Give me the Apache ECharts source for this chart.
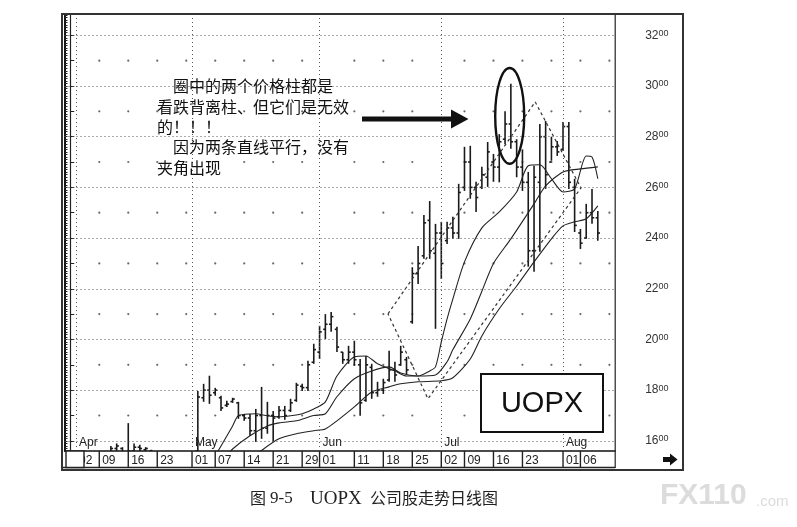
<!DOCTYPE html>
<html lang="zh-cn">
<head>
<meta charset="UTF-8">
<title>UOPX</title>
<script src="https://cdn.jsdelivr.net/npm/echarts@6/dist/echarts.min.js"></script>
<style>
  html, body { margin: 0; padding: 0; background: #fff; }
  #chart { width: 797px; height: 527px; }
</style>
</head>
<body>
<div id="chart"></div>
<script>
// trading days shown on the axis (2007)
var days = [
  'Mar-29','Mar-30',
  'Apr-02','Apr-03','Apr-04','Apr-05','Apr-09','Apr-10','Apr-11','Apr-12','Apr-13','Apr-16',
  'Apr-17','Apr-18','Apr-19','Apr-20','Apr-23','Apr-24','Apr-25','Apr-26','Apr-27','Apr-30',
  'May-01','May-02','May-03','May-04','May-07','May-08','May-09','May-10','May-11','May-14',
  'May-15','May-16','May-17','May-18','May-21','May-22','May-23','May-24','May-25','May-29',
  'May-30','May-31',
  'Jun-01','Jun-04','Jun-05','Jun-06','Jun-07','Jun-08','Jun-11','Jun-12','Jun-13','Jun-14',
  'Jun-15','Jun-18','Jun-19','Jun-20','Jun-21','Jun-22','Jun-25','Jun-26','Jun-27','Jun-28',
  'Jun-29',
  'Jul-02','Jul-03','Jul-05','Jul-06','Jul-09','Jul-10','Jul-11','Jul-12','Jul-13','Jul-16',
  'Jul-17','Jul-18','Jul-19','Jul-20','Jul-23','Jul-24','Jul-25','Jul-26','Jul-27','Jul-30',
  'Jul-31',
  'Aug-01','Aug-02','Aug-03','Aug-06','Aug-07','Aug-08','Aug-09','Aug-10','Aug-13'
];
var tickDays = ['Apr-02','Apr-09','Apr-16','Apr-23','May-01','May-07','May-14','May-21','May-29',
  'Jun-01','Jun-11','Jun-18','Jun-25','Jul-02','Jul-09','Jul-16','Jul-23','Aug-01','Aug-06'];
var monthDays = ['Apr-02','May-01','Jun-01','Jul-02','Aug-01'];
var monthNames = ['Apr','May','Jun','Jul','Aug'];
var dotWeeks = ['Apr-09','Apr-16','Apr-23','Apr-30','May-07','May-14','May-21','May-29','Jun-11',
  'Jun-18','Jun-25','Jul-09','Jul-16','Jul-23','Jul-30','Aug-06','Aug-13'];
var priceLabels = [1600, 1800, 2000, 2200, 2400, 2600, 2800, 3000, 3200];
var priceTicks = [1600, 1700, 1800, 1900, 2000, 2100, 2200, 2300, 2400, 2500, 2600, 2700, 2800, 2900, 3000, 3100, 3200];
var dotLevels = [1700, 1900, 2100, 2300, 2500, 2700, 2900, 3100];

// daily price bars, one entry per day above
var opens = [null, null,
  1470,1480,1500,1515,1530,1540,1570,1570,1545,1560,1575,1565,1560,1525,1495,1500,1510,1520,1500,1490,
  1560,1770,1800,1790,1770,1740,1755,1750,1700,1690,
  1640,1700,1650,1700,1695,1720,1720,1760,1815,1810,
  1910,1950,2040,2060,2040,1950,1920,1950,1900,1760,
  1890,1790,1800,1840,1880,1900,1920,2070,2260,2330,
  2470,2340,2420,2390,2440,2420,2600,2700,2600,2600,
  2640,2700,2680,2790,2850,2780,2680,2620,2350,2620,
  2800,2700,2760,2750,2840,2600,2420,2400,2500,2480,
  null, null, null];
var highs = [null, null,
  1500,1520,1530,1540,1550,1580,1590,1575,1670,1590,1585,1575,1565,1540,1520,1530,1540,1535,1520,1515,
  1797,1825,1857,1809,1778,1758,1770,1754,1706,1706,
  1726,1813,1754,1718,1738,1738,1766,1829,1825,1916,
  1983,2054,2100,2108,2050,1951,1975,1995,1923,1935,
  1904,1833,1845,1955,1912,1975,1931,2285,2369,2491,
  2546,2456,2464,2464,2484,2614,2760,2764,2622,2681,
  2779,2732,2810,2900,3009,2790,2750,2661,2685,2850,
  2862,2800,2783,2858,2858,2634,2436,2535,2594,2507,
  null, null, null];
var lows = [null, null,
  1440,1460,1480,1490,1500,1530,1545,1530,1520,1540,1545,1530,1510,1480,1470,1480,1490,1485,1470,1465,
  1530,1754,1746,1778,1718,1734,1750,1687,1679,1620,
  1596,1608,1628,1596,1687,1683,1714,1754,1797,1797,
  1904,1923,2002,2030,1951,1904,1904,1896,1699,1754,
  1766,1774,1785,1833,1833,1896,1864,2062,2219,2318,
  2318,2042,2239,2377,2397,2397,2586,2555,2503,2594,
  2602,2622,2620,2770,2752,2640,2586,2287,2267,2346,
  2594,2705,2724,2744,2594,2424,2357,2397,2456,2389,
  null, null, null];
var closes = [null, null,
  1480,1505,1515,1530,1540,1570,1580,1545,1560,1575,1570,1570,1525,1495,1500,1510,1520,1500,1490,1500,
  1773,1800,1780,1800,1730,1745,1765,1700,1690,1640,
  1700,1650,1700,1690,1720,1700,1750,1820,1810,1900,
  1960,2030,2060,2090,1970,1920,1950,1920,1750,1900,
  1790,1800,1830,1880,1860,1950,1880,2260,2300,2460,
  2350,2420,2300,2440,2420,2580,2700,2600,2560,2650,
  2740,2680,2780,2850,2780,2680,2620,2350,2640,2800,
  2650,2760,2740,2840,2620,2450,2380,2500,2480,2420,
  null, null, null];

// moving averages: [day index, price]
var fastMA = [[25,1540],[26,1580],[28,1659],[29,1699],[32,1707],[34,1699],[36,1695],[38,1699],[40,1707],
  [42,1726],[44,1754],[46,1856],[49,1931],[51,1935],[53,1904],[56,1876],[58,1856],[60,1856],[62,1876],
  [63,1892],[64,1990],[65,2081],[66,2160],[68,2306],[71,2440],[74,2503],[77,2582],[79,2685],[81,2689],
  [83,2634],[85,2582],[87,2594],[89,2724],[90,2720],[91,2634]];
var midMA = [[27,1540],[28,1568],[31,1620],[34,1659],[36,1671],[39,1679],[42,1700],[44,1707],[46,1774],
  [49,1845],[52,1876],[55,1892],[57,1868],[60,1856],[63,1860],[65,1912],[66,1960],[69,2081],[71,2190],
  [73,2300],[76,2397],[80,2535],[82,2606],[85,2661],[88,2673],[91,2681]];
var slowMA = [[32,1540],[33,1562],[36,1608],[39,1628],[42,1640],[44,1647],[46,1679],[49,1734],[52,1793],
  [55,1813],[57,1825],[60,1833],[64,1837],[66,1849],[69,1923],[71,2014],[74,2121],[77,2211],[80,2306],
  [83,2397],[85,2448],[87,2464],[89,2476],[91,2527]];

// the dashed channel (two parallel trend lines) and the circled bars
var channel = [[54.8,2101],[80.2,2937],[88.1,2598],[61.7,1766],[54.8,2101]];
var circled = [[75.8,2882]];

var noteLines = ['圈中的两个价格柱都是', '看跌背离柱、但它们是无效', '的！！！', '因为两条直线平行，没有', '夹角出现'];

var chart = echarts.init(document.getElementById('chart'));

var bars = [];
for (var k = 0; k < days.length; k++) {
  if (highs[k] != null) bars.push([k, opens[k], highs[k], lows[k], closes[k]]);
}
var dots = [];
dotWeeks.forEach(function (d) {
  dotLevels.forEach(function (p) { dots.push([days.indexOf(d) - 1, p]); });
});
var gridMarks = priceLabels.map(function (p) { return { yAxis: p }; })
  .concat(monthDays.map(function (d) { return { xAxis: days.indexOf(d) - 1 }; }));
var dateTicks = tickDays.map(function (d) { return [days.indexOf(d) - 1, 1560]; });

function ohlc(params, api) {
  var x = api.value(0);
  var o = api.coord([x, api.value(1)]);
  var h = api.coord([x, api.value(2)]);
  var l = api.coord([x, api.value(3)]);
  var c = api.coord([x, api.value(4)]);
  var st = { stroke: '#1a1a1a', lineWidth: 1.6 };
  return {
    type: 'group',
    children: [
      { type: 'line', shape: { x1: h[0], y1: h[1], x2: l[0], y2: l[1] }, style: st },
      { type: 'line', shape: { x1: o[0] - 2.2, y1: o[1], x2: o[0], y2: o[1] }, style: st },
      { type: 'line', shape: { x1: c[0], y1: c[1], x2: c[0] + 2.2, y2: c[1] }, style: st }
    ]
  };
}

var font = 'Arial, "Liberation Sans", sans-serif';
var serif = '"Liberation Serif", "DejaVu Serif", serif';
var cjk = '"Noto Sans CJK SC", sans-serif';

var option = {
  animation: false,
  backgroundColor: '#fff',
  grid: { left: 64.5, right: 181.8, top: 15, bottom: 76 },
  xAxis: [
    {
      type: 'category', data: days, boundaryGap: true, position: 'bottom',
      axisLine: { lineStyle: { color: '#111', width: 1.5 } },
      axisTick: { show: false },
      axisLabel: {
        interval: function (i, v) { return tickDays.indexOf(v) >= 0; },
        formatter: function (v) { return v.slice(4); },
        align: 'left', margin: 4, fontSize: 12, color: '#222', fontFamily: font
      },
      splitLine: { show: false }
    },
    { type: 'value', min: -1, max: 94, show: false },
    {
      type: 'category', data: days, boundaryGap: true, position: 'bottom',
      axisLine: { show: false }, axisTick: { show: false },
      axisLabel: {
        inside: true,
        interval: function (i, v) { return monthDays.indexOf(v) >= 0; },
        formatter: function (v) { return monthNames[monthDays.indexOf(v)]; },
        align: 'left', margin: 2, fontSize: 12, color: '#222', fontFamily: font
      },
      splitLine: { show: false }
    }
  ],
  yAxis: [
    {
      type: 'value', position: 'right', min: 1560, max: 3280, interval: 40,
      axisLine: { show: true, lineStyle: { color: '#222', width: 1.2 } },
      axisTick: { show: true, customValues: priceTicks, length: 4, lineStyle: { color: '#222' } },
      axisLabel: {
        customValues: priceLabels, margin: 30,
        formatter: function (v) {
          if (v % 200 !== 0) return '';
          var s = String(v);
          return '{a|' + s.slice(0, 2) + '}{b|' + s.slice(2) + '}';
        },
        rich: {
          a: { fontSize: 12, color: '#333', fontFamily: font },
          b: { fontSize: 9, color: '#333', fontFamily: font, padding: [0, 0, 4, 0] }
        }
      },
      splitLine: { show: false }
    },
    {
      type: 'value', position: 'left', min: 1560, max: 3280, interval: 10,
      axisLine: { show: true, lineStyle: { color: '#111', width: 2 } },
      axisTick: { show: true, inside: true, length: 3, lineStyle: { color: '#222', width: 1 } },
      axisLabel: { show: false },
      splitLine: { show: false }
    }
  ],
  series: [
    {
      type: 'scatter', xAxisIndex: 1, yAxisIndex: 0, data: dots, symbolSize: 2.2,
      itemStyle: { color: '#444' }, silent: true, z: 1,
      markLine: {
        silent: true, symbol: ['none', 'none'], label: { show: false },
        lineStyle: { color: '#555', width: 1, type: [1, 3] },
        emphasis: { disabled: true },
        data: gridMarks
      }
    },
    {
      // date separators in the label strip under the axis
      type: 'custom', xAxisIndex: 1, yAxisIndex: 0, data: dateTicks, clip: false,
      encode: { x: 0, y: 1 }, z: 6, silent: true,
      renderItem: function (params, api) {
        var p = api.coord([api.value(0), api.value(1)]);
        return {
          type: 'line', shape: { x1: p[0], y1: p[1], x2: p[0], y2: p[1] + 16 },
          style: { stroke: '#222', lineWidth: 1.4 }
        };
      }
    },
    {
      type: 'custom', xAxisIndex: 1, yAxisIndex: 0, data: bars, clip: true,
      encode: { x: 0, y: [1, 2, 3, 4] }, renderItem: ohlc, z: 3
    },
    {
      type: 'line', xAxisIndex: 1, yAxisIndex: 0, data: fastMA, showSymbol: false, smooth: 0.25,
      lineStyle: { color: '#222', width: 1.1 }, z: 4
    },
    {
      type: 'line', xAxisIndex: 1, yAxisIndex: 0, data: midMA, showSymbol: false, smooth: 0.25,
      lineStyle: { color: '#222', width: 1.1 }, z: 4
    },
    {
      type: 'line', xAxisIndex: 1, yAxisIndex: 0, data: slowMA, showSymbol: false, smooth: 0.25,
      lineStyle: { color: '#222', width: 1.1 }, z: 4
    },
    {
      type: 'line', xAxisIndex: 1, yAxisIndex: 0, data: channel, showSymbol: false,
      lineStyle: { color: '#333', width: 1.2, type: [3, 3] }, z: 4
    },
    {
      type: 'custom', xAxisIndex: 1, yAxisIndex: 0, data: circled, encode: { x: 0, y: 1 }, z: 5,
      renderItem: function (params, api) {
        var c = api.coord([api.value(0), api.value(1)]);
        var s = api.size([2.5, 189]);
        return {
          type: 'ellipse', shape: { cx: c[0], cy: c[1], rx: s[0], ry: s[1] },
          style: { fill: 'none', stroke: '#111', lineWidth: 2.4 }
        };
      }
    }
  ],
  graphic: [
    { type: 'rect', shape: { x: 62, y: 14, width: 621, height: 456 }, style: { fill: 'none', stroke: '#333', lineWidth: 2 }, z: 10 },
    { type: 'line', shape: { x1: 615.2, y1: 15, x2: 615.2, y2: 468 }, style: { stroke: '#222', lineWidth: 1.2 }, z: 10 },
    { type: 'line', shape: { x1: 63, y1: 467.5, x2: 615.2, y2: 467.5 }, style: { stroke: '#222', lineWidth: 1.5 }, z: 10 },
    { type: 'rect', shape: { x: 66, y: 451, width: 18, height: 16.5 }, style: { fill: '#fff', stroke: '#222', lineWidth: 1.4 }, z: 11 },
    {
      type: 'polygon', z: 10,
      shape: { points: [[663, 457], [670, 457], [670, 453.5], [677.5, 459.5], [670, 465.5], [670, 462], [663, 462]] },
      style: { fill: '#111' }
    },
    {
      type: 'polygon', z: 10,
      shape: { points: [[362, 116.5], [451, 116.5], [451, 109.5], [468.5, 119], [451, 128.5], [451, 121.5], [362, 121.5]] },
      style: { fill: '#111' }
    },
    { type: 'rect', shape: { x: 481, y: 374, width: 122, height: 58 }, style: { fill: '#fff', stroke: '#111', lineWidth: 2 }, z: 10 },
    { type: 'text', x: 542, y: 404, z: 11, style: { text: 'UOPX', font: '29px ' + font, fill: '#111', textAlign: 'center', textVerticalAlign: 'middle' } },
    { type: 'text', x: 173, y: 86, z: 11, style: { text: noteLines[0], font: '16px ' + cjk, fill: '#111', textVerticalAlign: 'middle' } },
    { type: 'text', x: 157, y: 107, z: 11, style: { text: noteLines[1], font: '16px ' + cjk, fill: '#111', textVerticalAlign: 'middle' } },
    { type: 'text', x: 157, y: 127, z: 11, style: { text: noteLines[2], font: '16px ' + cjk, fill: '#111', textVerticalAlign: 'middle' } },
    { type: 'text', x: 173, y: 147, z: 11, style: { text: noteLines[3], font: '16px ' + cjk, fill: '#111', textVerticalAlign: 'middle' } },
    { type: 'text', x: 157, y: 168, z: 11, style: { text: noteLines[4], font: '16px ' + cjk, fill: '#111', textVerticalAlign: 'middle' } },
    { type: 'text', x: 250, y: 498, z: 11, style: { text: '图', font: '16px ' + cjk, fill: '#222', textVerticalAlign: 'middle' } },
    { type: 'text', x: 270, y: 499, z: 11, style: { text: '9-5', font: '17px ' + serif, fill: '#222', textVerticalAlign: 'middle' } },
    { type: 'text', x: 310, y: 499, z: 11, style: { text: 'UOPX', font: '19px ' + serif, fill: '#222', textVerticalAlign: 'middle' } },
    { type: 'text', x: 370, y: 498, z: 11, style: { text: '公司股走势日线图', font: '16px ' + cjk, fill: '#222', textVerticalAlign: 'middle' } },
    { type: 'text', x: 660, y: 496, z: 11, style: { text: 'FX110', font: 'bold 30px ' + font, fill: '#dcdcdc', textVerticalAlign: 'middle' } },
    { type: 'text', x: 756, y: 502, z: 11, style: { text: '.com', font: '15px ' + font, fill: '#dcdcdc', textVerticalAlign: 'middle' } }
  ]
};
chart.setOption(option);
</script>
</body>
</html>
